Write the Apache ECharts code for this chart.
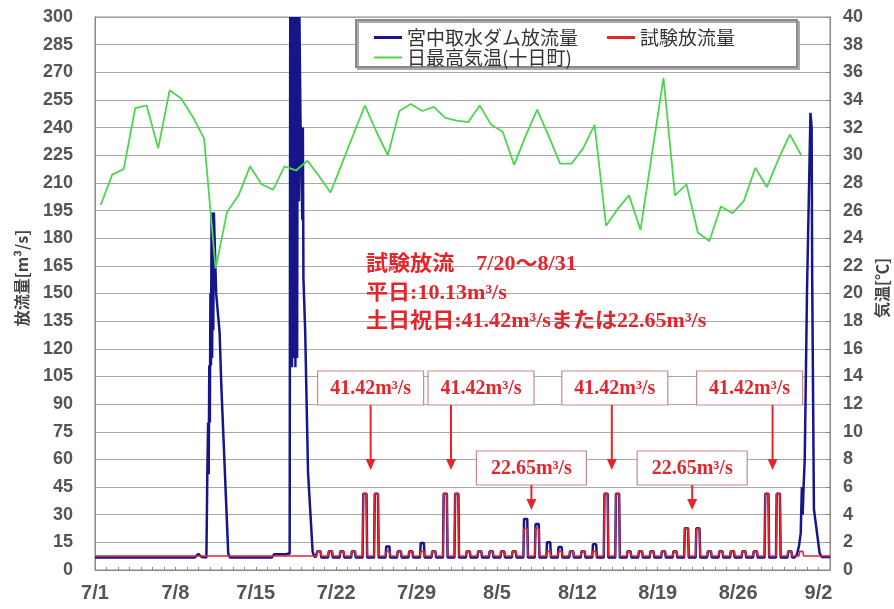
<!DOCTYPE html>
<html><head><meta charset="utf-8">
<script src="https://cdn.jsdelivr.net/npm/echarts@6/dist/echarts.min.js"></script>
<style>html,body{margin:0;padding:0;background:#fff}#c{width:894px;height:609px}</style>
</head><body><div id="c"></div>
<script>
// ---- data (days counted from 7/1 00:00) ----
const xTickLabels = ['7/1','7/8','7/15','7/22','7/29','8/5','8/12','8/19','8/26','9/2'];
// daily max temperature (Tokamachi), 7/1 .. 8/31
const tempMax = [26.4, 28.6, 29.0, 33.4, 33.6, 30.5, 34.7, 34.1, 32.8, 31.2,
  21.8, 25.9, 27.1, 29.2, 27.9, 27.5, 29.2, 28.9, 29.6, 28.5,
  27.3, 29.4, 31.5, 33.6, 31.7, 30.0, 33.2, 33.7, 33.2, 33.5,
  32.7, 32.5, 32.4, 33.6, 32.2, 31.7, 29.3, 31.4, 33.3, 31.4,
  29.4, 29.4, 30.5, 32.2, 24.9, 26.1, 27.1, 24.6, 30.1, 35.6,
  27.1, 27.9, 24.4, 23.8, 26.3, 25.8, 26.7, 29.1, 27.7, 29.7,
  31.5, 30.0];
// dam discharge before test period
const damBeforeT = [0, 8.7, 9.0, 9.3, 9.70, 9.78, 9.85, 9.90, 9.95, 10.00, 10.05, 10.10, 10.15, 10.2, 10.25, 10.3, 10.35, 10.45, 10.55, 10.65, 10.85, 11.00, 11.60, 11.75,
  15.4, 15.6, 16.6, 16.95, 17.0, 17.05, 17.1, 17.15, 17.2, 17.3, 17.35, 17.45, 17.5, 17.6, 17.65, 17.75, 17.8, 17.9, 18.0, 18.05, 18.1, 18.15, 18.3, 18.55, 18.95, 19.05, 19.2];
const damBeforeV = [6.8, 6.8, 8.7, 7.0, 6.8, 52, 80, 52, 111, 80, 150, 111, 194, 115, 194, 130, 194, 194, 150, 150, 129, 100, 9, 6.8,
  6.8, 8.5, 8.5, 9, 300, 110, 300, 110, 300, 115, 300, 110, 300, 115, 300, 200, 300, 240, 240, 190, 240, 158, 130, 53, 10, 8, 6.8];
// dam discharge at the end (8/31 - 9/2)
const damAfterT = [60.9, 61.1, 61.3, 61.45, 61.55, 61.62, 61.7, 61.8, 62.0, 62.3, 62.4, 62.45, 62.6, 63.1, 63.3, 64];
const damAfterV = [6.8, 8, 13, 20, 45, 30, 45, 60, 152, 248, 240, 158, 33, 9, 7, 7];
// test discharge daily values 7/20 .. 8/31
const testDaily = [10.13, 10.13, 10.13, 10.13, 41.42, 41.42, 10.13, 10.13, 10.13, 10.13,
  10.13, 41.42, 41.42, 10.13, 10.13, 10.13, 10.13, 10.13, 22.65, 22.65,
  10.13, 10.13, 10.13, 10.13, 10.13, 41.42, 41.42, 10.13, 10.13, 10.13,
  10.13, 10.13, 22.65, 22.65, 10.13, 10.13, 10.13, 10.13, 10.13, 41.42,
  41.42, 10.13, 10.13];
// dam discharge daily peaks during test period
const damDaily = [10.13, 10.13, 10.13, 10.13, 41.42, 41.42, 12.8, 10.13, 10.13, 14.6,
  10.13, 41.42, 41.42, 10.13, 10.13, 10.13, 10.13, 10.13, 27.6, 25.0,
  15.0, 12.5, 10.13, 10.13, 14.0, 41.42, 41.42, 10.13, 10.13, 10.13,
  10.13, 10.13, 22.65, 22.65, 10.13, 10.13, 10.13, 10.13, 10.13, 41.42,
  41.42, 10.13, 10.13];
const testBase = 7.6;
const damBase = 6.8;
const testFirstDay = 19; // 7/20
const annLines = ['試験放流　7/20～8/31', '平日:10.13m³/s', '土日祝日:41.42m³/sまたは22.65m³/s'];
const calloutDays = [24, 31, 38, 45, 52, 59]; // 7/25, 8/1, 8/8, 8/15, 8/22, 8/29
const calloutTexts = ['41.42m³/s','41.42m³/s','22.65m³/s','41.42m³/s','22.65m³/s','41.42m³/s'];

// ---- build series ----
const tempData = tempMax.map((v, i) => [i + 0.5, v]);
const redData = [[0, testBase]];
testDaily.forEach((v, i) => {
  const d0 = testFirstDay + i;
  redData.push([d0 + 0.3, testBase], [d0 + 0.36, v], [d0 + 0.64, v], [d0 + 0.7, testBase]);
});
redData.push([64, testBase]);
const blueData = damBeforeT.map((t, i) => [t, damBeforeV[i]]);
damDaily.forEach((v, i) => {
  const d0 = testFirstDay + i;
  if (d0 + 0.7 < damAfterT[0]) blueData.push([d0 + 0.3, damBase], [d0 + 0.36, v], [d0 + 0.64, v], [d0 + 0.7, damBase]);
});
damAfterT.forEach((t, i) => blueData.push([t, damAfterV[i]]));

const dayTicks = [];
for (let d = 0; d <= 64; d++) dayTicks.push(d);

const RED = '#e2262c';
const labelStyle = {fontFamily: 'Liberation Sans', fontWeight: 'bold', color: '#555'};
const legendText = {fontSize: 19, color: '#333', fontFamily: 'Noto Sans CJK JP'};

const chart = echarts.init(document.getElementById('c'));
const option = {
  animation: false,
  backgroundColor: '#fff',
  grid: {left: 95, right: 64, top: 17, bottom: 39, show: true, borderColor: '#888', borderWidth: 1},
  legend: [
    {data: ['宮中取水ダム放流量', '試験放流量'], left: 369, top: 23, icon: 'rect', itemWidth: 28, itemHeight: 3, itemGap: 29, z: 6, textStyle: legendText},
    {data: ['日最高気温(十日町)'], left: 369, top: 43, icon: 'rect', itemWidth: 28, itemHeight: 2, z: 6, textStyle: legendText}
  ],
  xAxis: {
    type: 'value', min: 0, max: 64, interval: 7,
    axisLine: {show: true, lineStyle: {color: '#888'}},
    axisTick: {show: true, inside: true, length: 3, customValues: dayTicks, lineStyle: {color: '#888'}},
    splitLine: {show: false},
    axisLabel: Object.assign({fontSize: 20, margin: 13, formatter: v => (xTickLabels[v / 7] ?? '')}, labelStyle)
  },
  yAxis: [
    {type: 'value', min: 0, max: 300, interval: 15, position: 'left',
     axisLine: {show: true, lineStyle: {color: '#888'}}, axisTick: {show: false},
     splitLine: {show: true, lineStyle: {color: '#a8a8a8', width: 1}},
     axisLabel: Object.assign({fontSize: 18, margin: 22}, labelStyle)},
    {type: 'value', min: 0, max: 40, interval: 2, position: 'right',
     axisLine: {show: true, lineStyle: {color: '#888'}},
     axisTick: {show: true, inside: true, length: 4, lineStyle: {color: '#888'}},
     splitLine: {show: false},
     axisLabel: Object.assign({fontSize: 18, margin: 13}, labelStyle)}
  ],
  series: [
    {name: '宮中取水ダム放流量', type: 'line', yAxisIndex: 0, data: blueData, symbol: 'none',
     lineStyle: {color: '#16168a', width: 2.5}, itemStyle: {color: '#16168a'}, z: 2},
    {name: '試験放流量', type: 'line', yAxisIndex: 0, data: redData, symbol: 'none',
     lineStyle: {color: RED, width: 1.6}, itemStyle: {color: RED}, z: 3},
    {name: '日最高気温(十日町)', type: 'line', yAxisIndex: 1, data: tempData, symbol: 'none',
     lineStyle: {color: '#4cd64c', width: 1.8}, itemStyle: {color: '#4cd64c'}, z: 4}
  ]
};
chart.setOption(option);

// ---- annotations ----
const g = [];
g.push({type: 'rect', z: 5, shape: {x: 356, y: 20, width: 441, height: 47},
  style: {fill: '#fff', stroke: '#8a8a8a', lineWidth: 2, shadowColor: '#aaa', shadowOffsetX: 2, shadowOffsetY: 2, shadowBlur: 0}});
g.push({type: 'text', z: 10, x: 22, y: 278, rotation: Math.PI / 2,
  style: {text: '放流量[m³/s]', fontSize: 16, fontWeight: 'bold', fontFamily: 'Noto Sans CJK JP', fill: '#444', align: 'center', verticalAlign: 'middle'}});
g.push({type: 'text', z: 10, x: 882, y: 288, rotation: Math.PI / 2,
  style: {text: '気温[℃]', fontSize: 16, fontWeight: 'bold', fontFamily: 'Noto Sans CJK JP', fill: '#444', align: 'center', verticalAlign: 'middle'}});
const annFont = "'Liberation Serif','Noto Sans CJK JP'";
[265, 294, 322].forEach((y, i) => {
  g.push({type: 'text', z: 10, x: 366, y: y, scaleX: 1.05,
    style: {text: annLines[i], fontSize: 21, fontWeight: 'bold', fontFamily: annFont, fill: RED, align: 'left', verticalAlign: 'middle'}});
});
const boxOffset = [0, 30, 0, 3, 0, -23];
calloutDays.forEach((d, i) => {
  const ax = chart.convertToPixel({xAxisIndex: 0}, d);
  const high = calloutTexts[i].startsWith('41');
  const top = high ? 371 : 451;
  const h = 34;
  const w = high ? 106 : 110;
  const tip = high ? 470 : 510;
  const cx = ax + boxOffset[i];
  g.push({type: 'rect', z: 10, shape: {x: cx - w / 2, y: top, width: w, height: h},
    style: {fill: '#fff', stroke: '#c98a8a', lineWidth: 1.2}});
  g.push({type: 'text', z: 11, x: cx, y: top + h / 2 + 1,
    style: {text: calloutTexts[i], fontSize: 20, fontWeight: 'bold', fontFamily: annFont, fill: RED, align: 'center', verticalAlign: 'middle'}});
  g.push({type: 'line', z: 10, shape: {x1: ax, y1: top + h, x2: ax, y2: tip - 8}, style: {stroke: RED, lineWidth: 2}});
  g.push({type: 'polygon', z: 10, shape: {points: [[ax - 5, tip - 11], [ax + 5, tip - 11], [ax, tip]]}, style: {fill: RED}});
});
chart.setOption({graphic: g});
</script>
</body></html>
